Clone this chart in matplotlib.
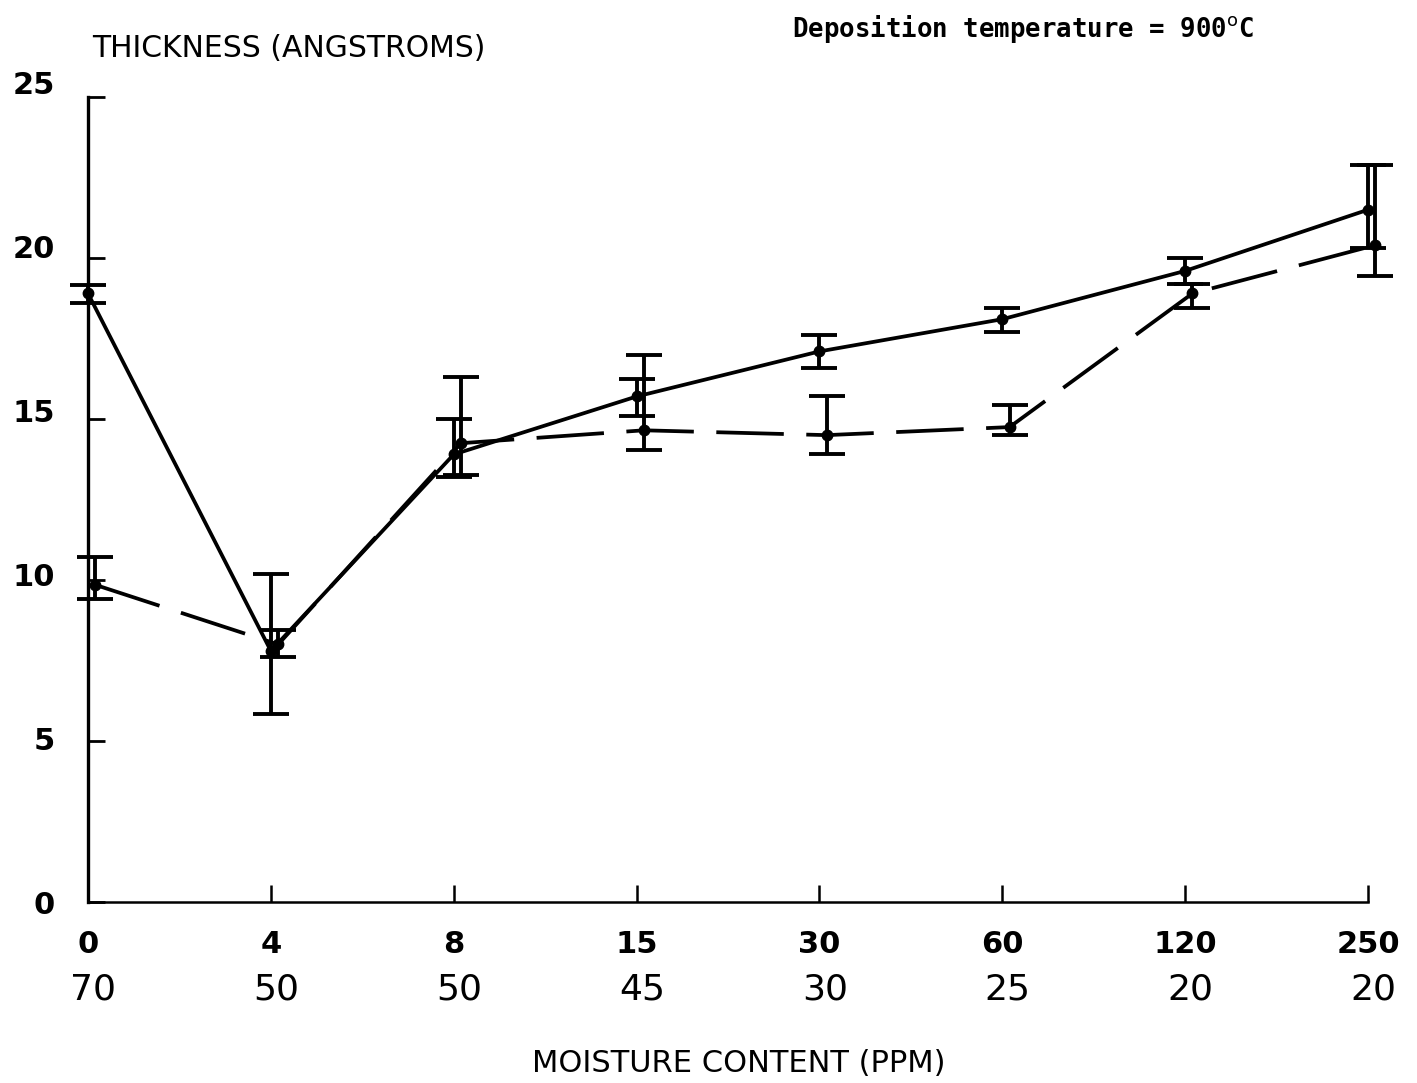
import numpy as np
import matplotlib
matplotlib.use("Agg")
import matplotlib.pyplot as plt
import matplotlib.transforms as mtransforms

# moisture content (ppm) and the second row of axis labels
moisture = ['0', '4', '8', '15', '30', '60', '120', '250']
second_row = ['70', '50', '50', '45', '30', '25', '20', '20']

# solid curve: thickness and error bar limits (angstroms)
solid_mean = [18.9, 7.8, 13.9, 15.7, 17.1, 18.1, 19.6, 21.5]
solid_lo = [18.6, 5.85, 13.2, 15.1, 16.6, 17.7, 19.2, 20.3]
solid_hi = [19.15, 10.2, 15.0, 16.25, 17.6, 18.45, 20.0, 22.9]

# dashed curve
dashed_mean = [9.85, 8.0, 14.25, 14.65, 14.5, 14.75, 18.9, 20.4]
dashed_lo = [9.4, 7.6, 13.25, 14.05, 13.9, 14.5, 18.45, 19.45]
dashed_hi = [10.7, 8.45, 16.3, 17.0, 15.7, 15.45, 19.2, 22.9]

fig = plt.figure(figsize=(14.17, 10.83), dpi=100)
ax = fig.add_axes([0.0621, 0.1671, 0.9033, 0.7433])

x = np.arange(len(moisture))

def draw_series(xpos, mean, lo, hi, ls):
    mean = np.array(mean)
    yerr = [mean - np.array(lo), np.array(hi) - mean]
    ax.errorbar(xpos, mean, yerr=yerr, fmt='none', ecolor='black', elinewidth=2.8,
                capsize=13, capthick=2.8, clip_on=False, zorder=3)
    ax.plot(xpos, mean, color='black', lw=2.7, ls=ls, marker='o', ms=7.5,
            clip_on=False, zorder=4)

draw_series(x, solid_mean, solid_lo, solid_hi, '-')
draw_series(x + 0.04, dashed_mean, dashed_lo, dashed_hi, (0, (18, 6)))

ax.set_xlim(0, 7)
ax.set_ylim(0, 25)
ax.spines['top'].set_visible(False)
ax.spines['right'].set_visible(False)
ax.spines['left'].set_linewidth(2.4)
ax.spines['bottom'].set_linewidth(1.8)

yticks = [0, 5, 10, 15, 20, 25]
ax.set_yticks(yticks)
ax.set_yticklabels([str(v) for v in yticks], fontsize=22, fontweight='bold')
ax.tick_params(axis='y', direction='in', length=12, width=2, pad=24)
# labels sit a little above their ticks, more so near the top
for lbl, v in zip(ax.get_yticklabels(), yticks):
    lbl.set_transform(lbl.get_transform() +
                      mtransforms.ScaledTranslation(0, 0.006 * v, fig.dpi_scale_trans))

ax.set_xticks(x)
ax.set_xticklabels(moisture, fontsize=22, fontweight='semibold')
ax.tick_params(axis='x', direction='in', length=12, width=1.8, pad=20)

# second row of numbers under the moisture values
trans = mtransforms.blended_transform_factory(ax.transData, ax.transAxes)
for xi, s in zip(x, second_row):
    ax.text(xi + 0.03, -0.088, s, transform=trans, ha='center', va='top', fontsize=26)

fig.text(0.521, 0.018, 'MOISTURE CONTENT (PPM)', ha='center', va='center', fontsize=22)
fig.text(0.065, 0.955, 'THICKNESS (ANGSTROMS)', ha='left', va='center', fontsize=21.5)
fig.text(0.559, 0.973, r'Deposition temperature = 900$^{\mathrm{o}}$C', ha='left', va='center',
         fontsize=18.5, fontweight='bold', family='DejaVu Sans Mono')

fig.savefig('out.png', dpi=100, facecolor='white')
